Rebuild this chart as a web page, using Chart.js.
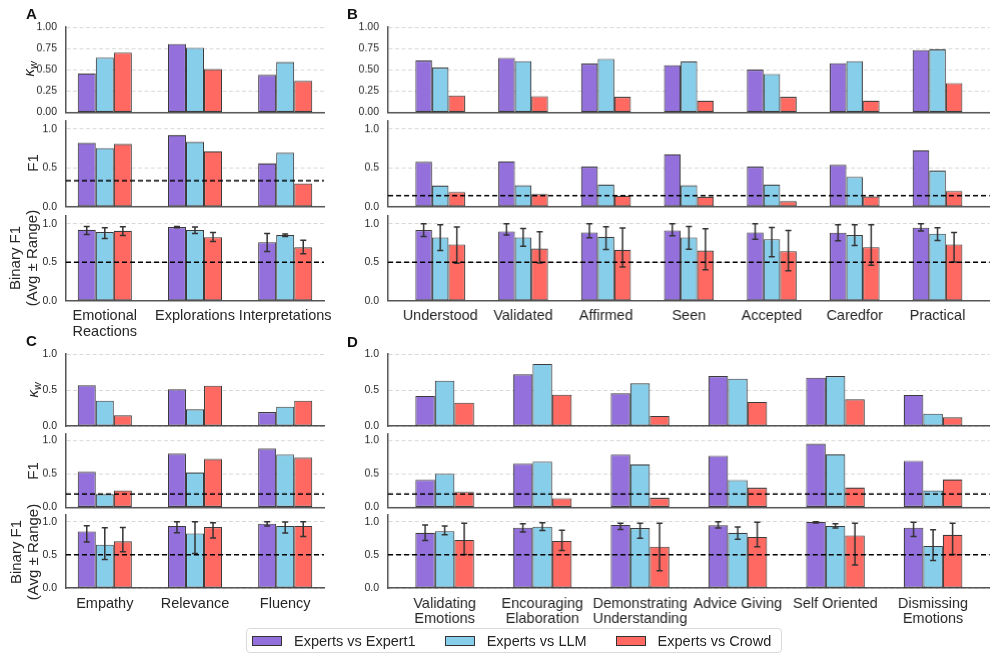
<!DOCTYPE html>
<html>
<head>
<meta charset="utf-8">
<script src="https://cdn.jsdelivr.net/npm/chart.js@4.4.1/dist/chart.umd.min.js"></script>
<style>
  body { margin: 0; background: #fff; }
  #fig { position: relative; width: 996px; height: 660px; overflow: hidden;
         font-family: "Liberation Sans", Arial, sans-serif; color: #262626; }
  .box { position: absolute; }
  .letter { position: absolute; font-weight: bold; font-size: 15px; line-height: 1; color: #111; }
  .ytitle { position: absolute; font-size: 15px; line-height: 17px; text-align: center; white-space: nowrap;
            transform: translate(-50%, -50%) rotate(-90deg); }
  .ytitle sub { font-size: 70%; vertical-align: -3px; line-height: 0; }
  #legend { position: absolute; left: 246px; top: 628px; width: 536px; height: 25px; box-sizing: border-box;
            border: 1px solid #d9d9d9; border-radius: 4px; display: flex; align-items: center; padding-left: 5px;
            font-size: 14.5px; white-space: nowrap; }
  .item { display: flex; align-items: center; margin-right: 29px; flex-shrink: 0; white-space: nowrap; }
  .swatch { width: 30px; height: 10px; box-sizing: border-box; border: 1px solid #333; margin-right: 12px; flex-shrink: 0; }
</style>
</head>
<body>
<div id="fig"></div>
<script>
const seriesNames = ['Experts vs Expert1', 'Experts vs LLM', 'Experts vs Crowd'];
const seriesColors = ['#9370DB', '#87CEEB', '#FF6961'];

const catsA = [['Emotional', 'Reactions'], 'Explorations', 'Interpretations'];
const catsB = ['Understood', 'Validated', 'Affirmed', 'Seen', 'Accepted', 'Caredfor', 'Practical'];
const catsC = ['Empathy', 'Relevance', 'Fluency'];
const catsD = [['Validating', 'Emotions'], ['Encouraging', 'Elaboration'], ['Demonstrating', 'Understanding'],
               'Advice Giving', 'Self Oriented', ['Dismissing', 'Emotions']];

// each metric: [Expert1, LLM, Crowd]
const kappaA = [[0.456, 0.802, 0.440], [0.643, 0.758, 0.591], [0.702, 0.508, 0.369]];
const f1A    = [[0.820, 0.921, 0.557], [0.754, 0.833, 0.693], [0.807, 0.711, 0.298]];
const binA   = [[0.921, 0.956, 0.760], [0.891, 0.917, 0.852], [0.908, 0.825, 0.694]];
const binLoA = [[0.860, 0.948, 0.638], [0.808, 0.873, 0.834], [0.847, 0.769, 0.611]];
const binHiA = [[0.965, 0.965, 0.873], [0.948, 0.956, 0.865], [0.961, 0.886, 0.786]];

const kappaB = [[0.609, 0.640, 0.573, 0.553, 0.502, 0.577, 0.731],
                [0.526, 0.601, 0.628, 0.597, 0.451, 0.601, 0.739],
                [0.198, 0.190, 0.182, 0.138, 0.182, 0.138, 0.344]];
const f1B    = [[0.576, 0.581, 0.515, 0.672, 0.515, 0.537, 0.725],
                [0.271, 0.275, 0.284, 0.275, 0.284, 0.384, 0.463],
                [0.188, 0.162, 0.140, 0.127, 0.070, 0.131, 0.201]];
const binB   = [[0.917, 0.900, 0.887, 0.913, 0.887, 0.883, 0.948],
                [0.822, 0.822, 0.830, 0.822, 0.800, 0.852, 0.870],
                [0.730, 0.678, 0.661, 0.652, 0.643, 0.696, 0.730]];
const binLoB = [[0.835, 0.852, 0.817, 0.843, 0.800, 0.778, 0.904],
                [0.652, 0.709, 0.665, 0.670, 0.570, 0.717, 0.783],
                [0.487, 0.491, 0.439, 0.404, 0.391, 0.461, 0.504]];
const binHiB = [[1.000, 1.000, 1.000, 1.000, 1.000, 0.987, 1.000],
                [0.987, 0.939, 0.961, 0.965, 0.952, 0.987, 0.948],
                [0.957, 0.896, 0.943, 0.935, 0.913, 0.987, 0.887]];

const kappaC = [[0.565, 0.509, 0.194], [0.352, 0.231, 0.269], [0.148, 0.560, 0.352]];
const f1C    = [[0.533, 0.807, 0.883], [0.198, 0.523, 0.792], [0.254, 0.726, 0.746]];
const binC   = [[0.852, 0.934, 0.969], [0.653, 0.821, 0.934], [0.704, 0.918, 0.934]];
const binLoC = [[0.694, 0.832, 0.934], [0.429, 0.520, 0.827], [0.546, 0.755, 0.776]];
const binHiC = [[0.939, 1.000, 1.000], [0.908, 1.000, 0.995], [0.913, 0.985, 1.000]];

const kappaD = [[0.417, 0.718, 0.454, 0.694, 0.671, 0.431],
                [0.630, 0.861, 0.593, 0.657, 0.694, 0.171],
                [0.324, 0.435, 0.139, 0.333, 0.370, 0.120]];
const f1D    = [[0.414, 0.657, 0.793, 0.773, 0.955, 0.697],
                [0.505, 0.687, 0.646, 0.409, 0.798, 0.253],
                [0.232, 0.136, 0.141, 0.293, 0.298, 0.419]];
const binD   = [[0.832, 0.908, 0.949, 0.944, 0.995, 0.908],
                [0.857, 0.923, 0.903, 0.832, 0.934, 0.633],
                [0.724, 0.709, 0.622, 0.770, 0.791, 0.801]];
const binLoD = [[0.714, 0.842, 0.883, 0.903, 0.980, 0.776],
                [0.801, 0.867, 0.750, 0.735, 0.903, 0.413],
                [0.505, 0.566, 0.260, 0.622, 0.347, 0.505]];
const binHiD = [[0.949, 0.969, 0.974, 1.000, 1.000, 0.990],
                [0.934, 0.985, 0.974, 0.918, 0.969, 0.878],
                [0.974, 0.872, 0.974, 0.990, 0.974, 0.974]];

// chance levels (dashed lines)
const chanceF1 = { A: 0.333, B: 0.143, C: 0.2, D: 0.2 };
const chanceBin = 0.5;

const ticksKappaAB = [0, 0.25, 0.5, 0.75, 1.0];
const ticksHalf = [0, 0.5, 1.0];

const TEXT = '#262626';
const SPINE = '#555555';
const EDGE = 'rgba(25, 25, 25, 0.85)';
const GRID = '#d4d4d4';

Chart.defaults.font.family = '"Liberation Sans", Arial, sans-serif';
Chart.defaults.color = TEXT;

const fig = document.getElementById('fig');

const overlay = {
  id: 'overlay',
  afterDatasetsDraw(chart, args, opts) {
    const { ctx, chartArea, scales: { y } } = chart;
    ctx.save();
    chart.data.datasets.forEach((ds, di) => {
      if (!ds.errLo) return;
      const meta = chart.getDatasetMeta(di);
      ctx.strokeStyle = '#333';
      ctx.lineWidth = 1.5;
      meta.data.forEach((bar, i) => {
        const y1 = y.getPixelForValue(ds.errLo[i]);
        const y2 = y.getPixelForValue(ds.errHi[i]);
        ctx.beginPath();
        ctx.moveTo(bar.x, y1); ctx.lineTo(bar.x, y2);
        ctx.moveTo(bar.x - 3, y1); ctx.lineTo(bar.x + 3, y1);
        ctx.moveTo(bar.x - 3, y2); ctx.lineTo(bar.x + 3, y2);
        ctx.stroke();
      });
    });
    if (opts.value != null) {
      const yy = y.getPixelForValue(opts.value);
      ctx.strokeStyle = '#000';
      ctx.lineWidth = 1.4;
      ctx.setLineDash([5, 3]);
      ctx.beginPath();
      ctx.moveTo(chartArea.left, yy);
      ctx.lineTo(chartArea.right, yy);
      ctx.stroke();
    }
    ctx.restore();
  }
};

function addChart(o) {
  const YW = 40, PT = 8, PR = 20;
  const PB = o.showX ? 0 : 7;
  const XH = o.showX ? 50 : 0;
  const plotW = o.x[1] - o.x[0], plotH = o.y[1] - o.y[0];
  const div = document.createElement('div');
  div.className = 'box';
  div.style.left = (o.x[0] - YW) + 'px';
  div.style.top = (o.y[0] - PT) + 'px';
  div.style.width = (plotW + YW + PR) + 'px';
  div.style.height = (plotH + PT + PB + XH) + 'px';
  const canvas = document.createElement('canvas');
  div.appendChild(canvas);
  fig.appendChild(div);

  const n = o.cats.length;
  const margin = 0.3 + 0.05 * (n - 0.4);

  new Chart(canvas, {
    type: 'bar',
    data: {
      datasets: o.values.map((vals, s) => ({
        label: seriesNames[s],
        data: vals.map((v, i) => ({ x: i, y: v })),
        backgroundColor: seriesColors[s],
        borderColor: EDGE,
        borderWidth: 1.1,
        borderSkipped: false,
        categoryPercentage: 0.6,
        barPercentage: 1.0,
        errLo: o.lo ? o.lo[s] : null,
        errHi: o.hi ? o.hi[s] : null
      }))
    },
    options: {
      responsive: true,
      maintainAspectRatio: false,
      animation: false,
      layout: { padding: { top: PT, right: PR, bottom: PB, left: 0 } },
      plugins: {
        legend: { display: false },
        tooltip: { enabled: false },
        overlay: { value: o.chance }
      },
      scales: {
        x: {
          type: 'linear',
          offset: false,
          min: -margin,
          max: n - 1 + margin,
          grid: { display: false, drawTicks: false, offset: false },
          border: { display: true, color: SPINE, width: 1.5 },
          afterBuildTicks: s => { s.ticks = o.cats.map((c, i) => ({ value: i })); },
          afterFit: s => { s.height = XH; s.paddingLeft = 0; s.paddingRight = 0; },
          ticks: {
            display: o.showX,
            autoSkip: false,
            maxRotation: 0,
            minRotation: 0,
            padding: 8,
            color: TEXT,
            font: { size: 14.5, lineHeight: 1.05 },
            callback: v => o.cats[v]
          }
        },
        y: {
          type: 'linear',
          min: 0,
          max: o.yMax,
          afterBuildTicks: s => { s.ticks = o.yTicks.map(v => ({ value: v })); },
          afterFit: s => { s.width = YW; s.paddingTop = 0; s.paddingBottom = 0; },
          grid: { color: GRID, lineWidth: 0.9, drawTicks: false },
          border: { display: true, color: SPINE, width: 1.5, dash: [4, 2.5] },
          ticks: {
            padding: 9,
            color: TEXT,
            font: { size: 10.5 },
            callback: v => v.toFixed(o.dec)
          }
        }
      }
    },
    plugins: [overlay]
  });
}

const colAC = [66, 324], colBD = [388.3, 989];
const rowAB = { k: [27, 111.5], f: [121, 205.7], b: [215.5, 300.3] };
const rowCD = { k: [354, 426], f: [434.3, 506.7], b: [515, 588] };

function addPanel(col, row, cats, kappa, f1, bin, lo, hi, kTicks, kDec, f1Chance) {
  addChart({ x: col, y: row.k, cats, values: kappa, yMax: 1.0, yTicks: kTicks, dec: kDec, showX: false });
  addChart({ x: col, y: row.f, cats, values: f1, yMax: 1.1, yTicks: ticksHalf, dec: 1, chance: f1Chance, showX: false });
  addChart({ x: col, y: row.b, cats, values: bin, lo, hi, yMax: 1.1, yTicks: ticksHalf, dec: 1, chance: chanceBin, showX: true });
}

addPanel(colAC, rowAB, catsA, kappaA, f1A, binA, binLoA, binHiA, ticksKappaAB, 2, chanceF1.A);
addPanel(colBD, rowAB, catsB, kappaB, f1B, binB, binLoB, binHiB, ticksKappaAB, 2, chanceF1.B);
addPanel(colAC, rowCD, catsC, kappaC, f1C, binC, binLoC, binHiC, ticksHalf, 1, chanceF1.C);
addPanel(colBD, rowCD, catsD, kappaD, f1D, binD, binLoD, binHiD, ticksHalf, 1, chanceF1.D);

function addText(cls, html, left, top) {
  const el = document.createElement('div');
  el.className = cls;
  el.innerHTML = html;
  el.style.left = left + 'px';
  el.style.top = top + 'px';
  fig.appendChild(el);
}

addText('letter', 'A', 26, 6);
addText('letter', 'B', 347, 6);
addText('letter', 'C', 26, 333);
addText('letter', 'D', 347, 334);

const kappaTitle = '<i>κ</i><sub><i>w</i></sub>';
const binTitle = 'Binary F1<br>(Avg ± Range)';
addText('ytitle', kappaTitle, 28, 69);
addText('ytitle', 'F1', 31.5, 163.4);
addText('ytitle', binTitle, 22.5, 258);
addText('ytitle', kappaTitle, 32, 390);
addText('ytitle', 'F1', 32, 470.5);
addText('ytitle', binTitle, 23.5, 551.5);

const legend = document.createElement('div');
legend.id = 'legend';
seriesNames.forEach((name, i) => {
  const item = document.createElement('div');
  item.className = 'item';
  const sw = document.createElement('div');
  sw.className = 'swatch';
  sw.style.background = seriesColors[i];
  const label = document.createElement('span');
  label.textContent = name;
  item.appendChild(sw);
  item.appendChild(label);
  legend.appendChild(item);
});
fig.appendChild(legend);
</script>
</body>
</html>
